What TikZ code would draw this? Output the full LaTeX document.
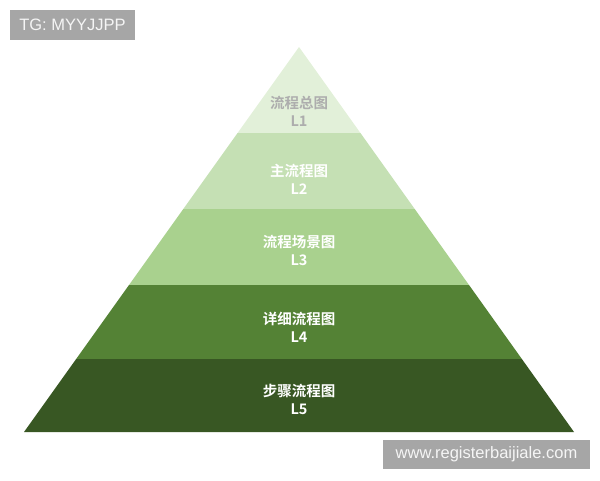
\documentclass[tikz,border=0pt]{standalone}
\usepackage{fontspec}
\setmainfont{Liberation Sans}
\newfontfamily\cjk{Noto Sans CJK SC}[BoldFont={Noto Sans CJK SC Bold}]
\usetikzlibrary{calc}
\definecolor{lvA}{HTML}{E2F0D9}
\definecolor{lvB}{HTML}{C5E0B4}
\definecolor{lvC}{HTML}{A9D18E}
\definecolor{lvD}{HTML}{548235}
\definecolor{lvE}{HTML}{385723}
\definecolor{tagbg}{HTML}{A6A6A6}
\begin{document}
\begin{tikzpicture}[x=1pt,y=-1pt,every node/.style={font=\cjk\bfseries\fontsize{14.5}{18}\selectfont,text=white,align=center,inner sep=0pt}]
		\useasboundingbox(0,0)rectangle(600,480);
		\coordinate(A)at(299,47);
		\coordinate(BL)at(24,432);
		\coordinate(BR)at(574,432);
		\foreach\a/\b/\c in{0/.2234/lvA,.2234/.4208/lvB,.4208/.6182/lvC,.6182/.8104/lvD,.8104/1/lvE}{\fill[\c]($(A)!\a!(BL)$)--($(A)!\b!(BL)$)--($(A)!\b!(BR)$)--($(A)!\a!(BR)$)--cycle;}
		\node[text=black!32](t1)at(299,111){流程总图\\L1};
		\node(t2)at(299,179){主流程图\\L2};
		\node(t3)at(299,250){流程场景图\\L3};
		\node(t4)at(299,327){详细流程图\\L4};
		\node(t5)at(299,399){步骤流程图\\L5};
		\node[fill=tagbg,text=white!96!black,font=\fontsize{16.5}{18}\selectfont,minimum width=125pt,minimum height=30pt](tg)at(72.5,25){TG: MYYJJPP};
		\node[fill=tagbg,text=white!96!black,font=\fontsize{16.5}{18}\selectfont,minimum width=207pt,minimum height=29pt](www)at(486.5,454.5){www.registerbaijiale.com};
		\end{tikzpicture}
\end{document}
